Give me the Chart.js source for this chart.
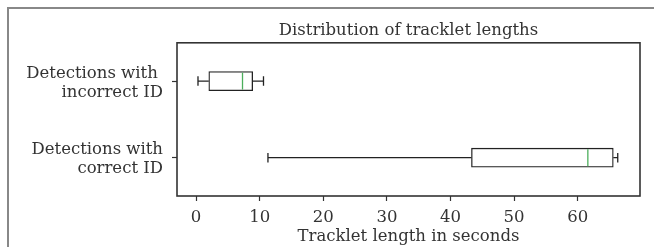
<!DOCTYPE html>
<html>
<head>
<meta charset="utf-8">
<script src="https://cdn.jsdelivr.net/npm/chart.js@4/dist/chart.umd.min.js"></script>
<style>
  body { margin: 0; background: #fff; }
  #wrap { position: relative; width: 654px; height: 247px; }
  #frame { position: absolute; left: 7px; top: 7px; right: 0; bottom: 0;
           border-top: 2px solid #888; border-left: 2px solid #888; }
  canvas { position: absolute; left: 0; top: 0; }
</style>
</head>
<body>
<div id="wrap">
  <div id="frame"></div>
  <canvas id="box-chart"></canvas>
</div>
<script>
//Data
var categories = [["Detections with ", "incorrect ID"], ["Detections with", "correct ID"]];
var whiskerLow  = [0.3, 11.3];
var q1          = [2.0, 43.3];
var median      = [7.3, 61.6];
var q3          = [8.9, 65.6];
var whiskerHigh = [10.6, 66.3];
var xTicks = [0, 10, 20, 30, 40, 50, 60];

var serif = "'DejaVu Serif', serif";
var ink = "#222";
var fontSize = 16.5;

//whiskers, caps, medians and the plot frame
var boxExtras = {
  id: "boxExtras",
  afterDatasetsDraw: function(chart) {
    var ctx = chart.ctx, xs = chart.scales.x, ys = chart.scales.y, a = chart.chartArea;
    var half = 19 / 2, cap = 9.5 / 2;
    ctx.save();
    ctx.lineWidth = 1.3;
    ctx.strokeStyle = ink;
    for (var i = 0; i < categories.length; i++) {
      var y = ys.getPixelForValue(i);
      var lo = xs.getPixelForValue(whiskerLow[i]), b1 = xs.getPixelForValue(q1[i]);
      var b3 = xs.getPixelForValue(q3[i]), hi = xs.getPixelForValue(whiskerHigh[i]);
      ctx.beginPath();
      ctx.moveTo(lo, y); ctx.lineTo(b1, y);
      ctx.moveTo(b3, y); ctx.lineTo(hi, y);
      ctx.moveTo(lo, y - cap); ctx.lineTo(lo, y + cap);
      ctx.moveTo(hi, y - cap); ctx.lineTo(hi, y + cap);
      ctx.stroke();
      var m = xs.getPixelForValue(median[i]);
      ctx.strokeStyle = "#4cae5c";
      ctx.beginPath();
      ctx.moveTo(m, y - half + 1); ctx.lineTo(m, y + half - 1);
      ctx.stroke();
      ctx.strokeStyle = ink;
    }
    ctx.lineWidth = 1.6;
    ctx.strokeStyle = "#333";
    ctx.strokeRect(a.left, a.top, a.right - a.left, a.bottom - a.top);
    ctx.restore();
  }
};

var boxChart = new Chart(document.getElementById("box-chart"), {
  type: "bar",
  data: {
    labels: categories,
    datasets: [{
      data: q1.map(function(v, i) { return [v, q3[i]]; }),
      backgroundColor: "#fff",
      borderColor: ink,
      borderWidth: 1.3,
      borderSkipped: false,
      barThickness: 19
    }]
  },
  options: {
    indexAxis: "y",
    responsive: true,
    maintainAspectRatio: false,
    animation: false,
    layout: { padding: { left: 0, right: 14, top: 0, bottom: 0 } },
    plugins: {
      legend: { display: false },
      tooltip: { enabled: false },
      title: {
        display: true,
        fullSize: false,
        text: "Distribution of tracklet lengths",
        color: "#333",
        font: { family: serif, size: fontSize, weight: "normal", lineHeight: 1.2 },
        padding: { top: 21, bottom: 2 }
      }
    },
    scales: {
      x: {
        type: "linear",
        min: -3.0,
        max: 69.8,
        afterBuildTicks: function(scale) {
          scale.ticks = xTicks.map(function(v) { return { value: v }; });
        },
        afterFit: function(scale) { scale.height = 51; },
        grid: { drawOnChartArea: false, tickLength: 5, tickColor: "#333", tickWidth: 1.2 },
        border: { display: false },
        ticks: { color: "#333", padding: 7, font: { family: serif, size: fontSize, lineHeight: 1.2 } },
        title: {
          display: true,
          text: "Tracklet length in seconds",
          color: "#333",
          font: { family: serif, size: fontSize, lineHeight: 1.2 },
          padding: { top: 0, bottom: 0 }
        }
      },
      y: {
        type: "category",
        offset: true,
        afterFit: function(scale) { scale.width = 177; },
        grid: { drawOnChartArea: false, offset: false, tickLength: 5, tickColor: "#333", tickWidth: 1.2 },
        border: { display: false },
        ticks: { color: "#333", padding: 9, labelOffset: 2, font: { family: serif, size: fontSize, lineHeight: 1.15 } }
      }
    }
  },
  plugins: [boxExtras]
});
</script>
</body>
</html>
